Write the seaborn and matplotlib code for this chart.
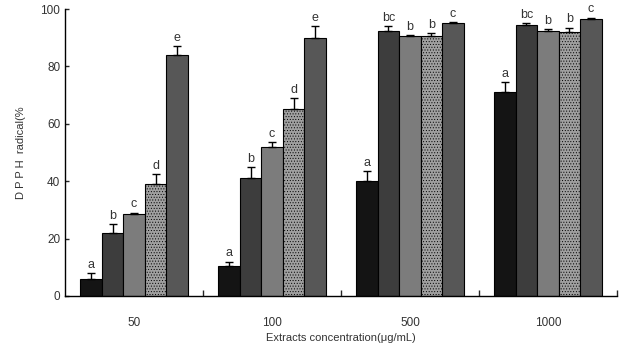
import numpy as np
import pandas as pd
import matplotlib
matplotlib.use('Agg')
import matplotlib.pyplot as plt
import seaborn as sns

# data
conc = ['50', '100', '500', '1000']
samples = ['S1', 'S2', 'S3', 'S4', 'S5']
vals = {
    'S1': [5.9, 10.5, 40.0, 71.0],
    'S2': [22.0, 41.0, 92.5, 94.5],
    'S3': [28.5, 52.0, 90.5, 92.5],
    'S4': [39.0, 65.0, 90.5, 92.0],
    'S5': [84.0, 90.0, 95.0, 96.5],
}
errs = {
    'S1': [2.0, 1.5, 3.5, 3.5],
    'S2': [3.0, 4.0, 1.5, 0.5],
    'S3': [0.5, 1.5, 0.5, 0.5],
    'S4': [3.5, 4.0, 1.0, 1.5],
    'S5': [3.0, 4.0, 0.5, 0.5],
}
letters = {
    'S1': ['a', 'a', 'a', 'a'],
    'S2': ['b', 'b', 'bc', 'bc'],
    'S3': ['c', 'c', 'b', 'b'],
    'S4': ['d', 'd', 'b', 'b'],
    'S5': ['e', 'e', 'c', 'c'],
}
colors = ['#141414', '#3d3d3d', '#7c7c7c', '#a0a0a0', '#575757']
hatches = ['', '', '', '......', '']

rows = []
for s in samples:
    for i, c in enumerate(conc):
        rows.append({'conc': c, 'sample': s, 'val': vals[s][i]})
df = pd.DataFrame(rows)

sns.set_style('white')
plt.rcParams['font.family'] = ['Liberation Sans', 'DejaVu Sans']
plt.rcParams['hatch.linewidth'] = 0.4

fig = plt.figure(figsize=(6.2, 3.49), dpi=100)
ax = fig.add_axes([0.105, 0.152, 0.89, 0.822])

sns.barplot(data=df, x='conc', y='val', hue='sample', order=conc, hue_order=samples,
            palette=colors, edgecolor='black', linewidth=0.8, width=0.78,
            errorbar=None, legend=False, ax=ax, saturation=1)

# bars come hue by hue, then by x
for k, s in enumerate(samples):
    for i in range(len(conc)):
        p = ax.patches[k * len(conc) + i]
        p.set_hatch(hatches[k])
        xc = p.get_x() + p.get_width() / 2
        y = vals[s][i]
        e = errs[s][i]
        ax.errorbar(xc, y, yerr=[[0], [e]], fmt='none', ecolor='black',
                    elinewidth=1, capsize=3, capthick=1)
        ax.text(xc, y + e + 0.8, letters[s][i], ha='center', va='bottom',
                fontsize=9, color='#333333')

ax.set_ylim(0, 100)
ax.set_xlim(-0.5, 3.5)
ax.set_yticks([0, 20, 40, 60, 80, 100])
ax.set_xticks(range(4))
ax.set_xticklabels(conc)
ax.set_xticks([0.5, 1.5, 2.5, 3.5], minor=True)
ax.tick_params(axis='x', which='major', length=0, pad=15, labelsize=8.5, labelcolor='#333333')
ax.tick_params(axis='x', which='minor', direction='in', length=4, width=1, bottom=True)
ax.tick_params(axis='y', direction='in', length=3, width=1, left=True, labelsize=8.5,
               labelcolor='#333333')
ax.set_xlabel('Extracts concentration(μg/mL)', fontsize=8, color='#333333', labelpad=3)
ax.set_ylabel('D P P H  radical(%', fontsize=8, color='#333333', labelpad=10)

sns.despine(ax=ax)
for sp in ['left', 'bottom']:
    ax.spines[sp].set_color('black')
    ax.spines[sp].set_linewidth(1)

fig.savefig('out.png', dpi=100)
